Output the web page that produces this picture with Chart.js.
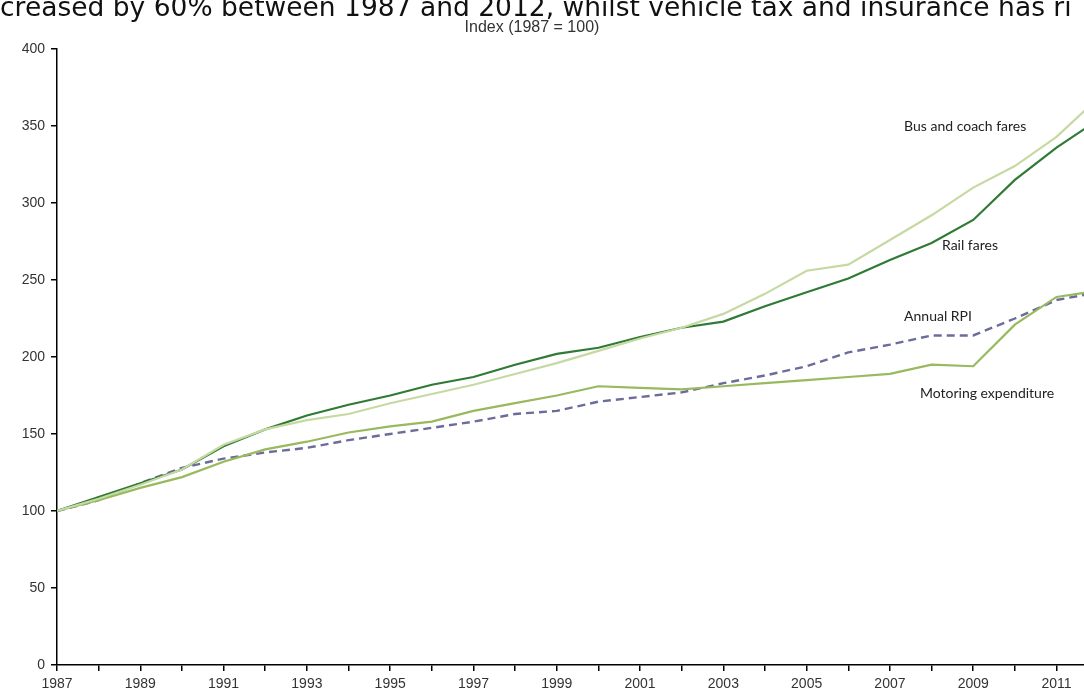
<!DOCTYPE html>
<html>
<head>
<meta charset="utf-8">
<script src="https://cdn.jsdelivr.net/npm/chart.js@4"></script>
<style>
  html, body { margin: 0; padding: 0; background: #fff; overflow: hidden; }
  #wrap { position: relative; width: 1084px; height: 696px; overflow: hidden; }
  #headline {
    position: absolute; left: 0; top: -7px; white-space: nowrap;
    font-family: "DejaVu Sans"; font-size: 26.5px; line-height: 27px; color: #111;
  }
  #subtitle {
    position: absolute; left: 0; width: 1064px; top: 18px; text-align: center;
    font-family: "Liberation Sans"; font-size: 16px; color: #333;
  }
  #chartBox { position: absolute; left: 0; top: 0; width: 1084px; height: 696px; }
</style>
</head>
<body>
<div id="wrap">
  <div id="chartBox"><canvas id="fares"></canvas></div>
  <div id="headline">creased by 60% between 1987 and 2012, whilst vehicle tax and insurance has ri</div>
  <div id="subtitle">Index (1987 = 100)</div>
</div>
<script>
// index values, 1987 = 100
var years = [1987, 1988, 1989, 1990, 1991, 1992, 1993, 1994, 1995, 1996, 1997, 1998, 1999,
             2000, 2001, 2002, 2003, 2004, 2005, 2006, 2007, 2008, 2009, 2010, 2011, 2012];
var busFares = [100, 108, 117, 127, 143, 153, 159, 163, 170, 176, 182, 189, 196,
                204, 212, 219, 228, 241, 256, 260, 276, 292, 310, 324, 343, 368];
var railFares = [100, 109, 118, 127, 142, 153, 162, 169, 175, 182, 187, 195, 202,
                 206, 213, 219, 223, 233, 242, 251, 263, 274, 289, 315, 336, 354];
var annualRpi = [100, 107, 118, 128, 134, 138, 141, 146, 150, 154, 158, 163, 165,
                 171, 174, 177, 183, 188, 194, 203, 208, 214, 214, 225, 237, 242];
var motoring = [100, 107, 115, 122, 132, 140, 145, 151, 155, 158, 165, 170, 175,
                181, 180, 179, 181, 183, 185, 187, 189, 195, 194, 221, 239, 243];

// series names written next to the lines (year, index)
var lineLabels = [
  { text: "Bus and coach fares", year: 2007.34, value: 350 },
  { text: "Rail fares", year: 2008.25, value: 272.7 },
  { text: "Annual RPI", year: 2007.34, value: 226 },
  { text: "Motoring expenditure", year: 2007.72, value: 176.6 }
];

function toPoints(vals) {
  return vals.map(function (v, i) { return { x: years[i], y: v }; });
}

var labelPlugin = {
  id: "lineLabels",
  afterDatasetsDraw: function (chart) {
    var ctx = chart.ctx;
    var xs = chart.scales.x, ys = chart.scales.y;
    ctx.save();
    ctx.font = "14px Lato";
    ctx.fillStyle = "#222";
    ctx.textAlign = "left";
    ctx.textBaseline = "middle";
    lineLabels.forEach(function (l) {
      ctx.fillText(l.text, xs.getPixelForValue(l.year), ys.getPixelForValue(l.value));
    });
    ctx.restore();
  }
};

var axisLook = {
  display: true, drawOnChartArea: false, drawTicks: true, tickLength: 6,
  color: "#000", lineWidth: 1.5
};

new Chart(document.getElementById("fares"), {
  type: "line",
  data: {
    datasets: [{
      label: "Bus and coach fares",
      data: toPoints(busFares),
      borderColor: "#c6d9a2",
      borderWidth: 2.2
    }, {
      label: "Rail fares",
      data: toPoints(railFares),
      borderColor: "#2f7a34",
      borderWidth: 2.2
    }, {
      label: "Motoring expenditure",
      data: toPoints(motoring),
      borderColor: "#98b95e",
      borderWidth: 2.2
    }, {
      label: "Annual RPI",
      data: toPoints(annualRpi),
      borderColor: "#6c6c9c",
      borderWidth: 2.4,
      borderDash: [8, 5]
    }]
  },
  options: {
    responsive: true,
    maintainAspectRatio: false,
    animation: false,
    events: [],
    layout: { padding: { top: 49, right: 0, left: 0, bottom: 0 } },
    elements: { point: { radius: 0 }, line: { tension: 0 } },
    plugins: { legend: { display: false }, tooltip: { enabled: false } },
    scales: {
      x: {
        type: "linear",
        min: 1987,
        max: 2011.66,
        grid: axisLook,
        border: { display: true, color: "#000", width: 1.5 },
        ticks: {
          stepSize: 1,
          autoSkip: false,
          includeBounds: false,
          maxRotation: 0,
          padding: 5,
          color: "#333",
          font: { family: "Liberation Sans", size: 14 },
          callback: function (v) { return v % 2 === 1 ? String(v) : ""; }
        },
        afterFit: function (s) { s.height = 31; }
      },
      y: {
        min: 0,
        max: 400,
        grid: axisLook,
        border: { display: true, color: "#000", width: 1.5 },
        ticks: {
          stepSize: 50,
          padding: 6,
          color: "#333",
          font: { family: "Liberation Sans", size: 14 }
        },
        afterFit: function (s) { s.width = 57; }
      }
    }
  },
  plugins: [labelPlugin]
});
</script>
</body>
</html>
